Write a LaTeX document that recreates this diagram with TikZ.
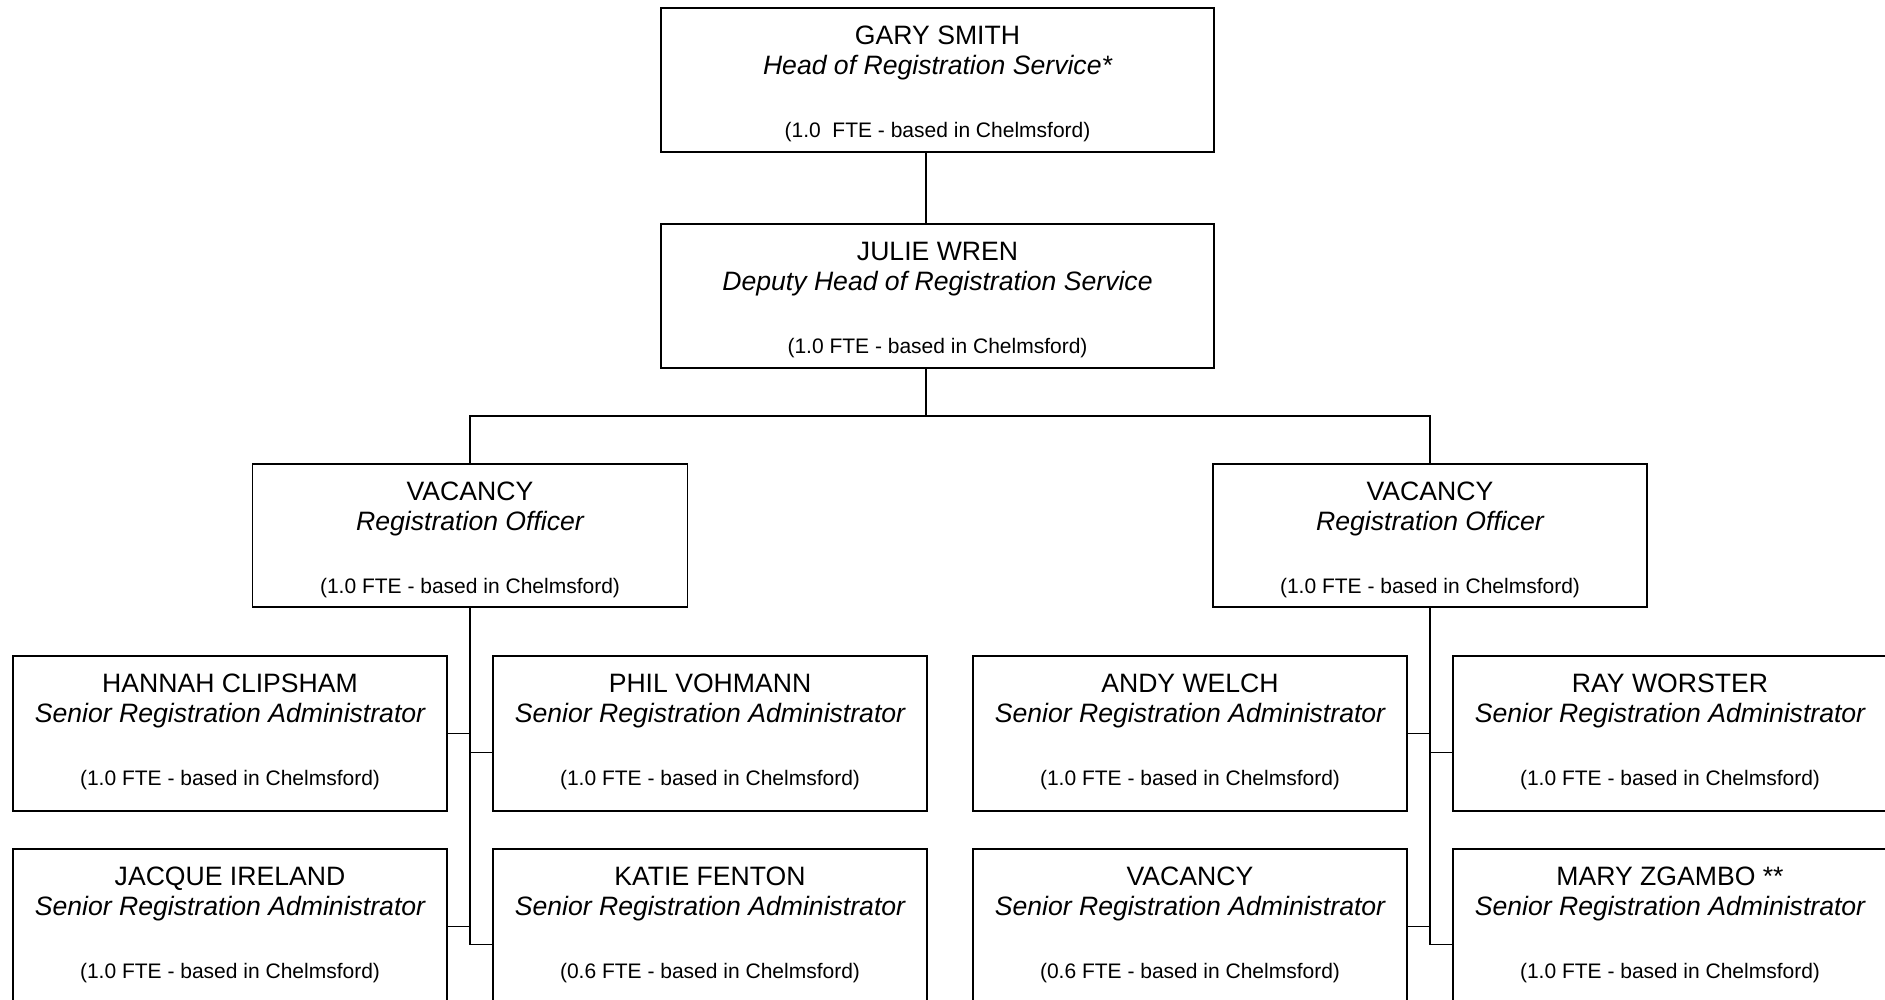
\documentclass[tikz,border=0pt]{standalone}
\usepackage{fontspec}
\setmainfont{Liberation Sans}
\newcommand{\orgbox}[8]{%
  \node[obox, minimum width=#4pt, minimum height=#5pt, anchor=north] (#1) at (#2,#3) {};
  \node[nametext] (#1-n) at (#2,#3+36.5) {#6};
  \node[titletext] (#1-t) at (#2,#3+66.5) {#7};
  \node[ftetext] (#1-f) at (#2,#3+129.5) {#8};
}
\begin{document}
\begin{tikzpicture}[x=1pt,y=-1pt,
  obox/.style={draw=black, line width=1.8pt, inner sep=0pt, outer sep=0pt, rectangle},
  nametext/.style={font=\fontsize{26.6}{30}\selectfont, anchor=base, inner sep=0pt},
  titletext/.style={font=\fontsize{26.6}{30}\selectfont\itshape, anchor=base, inner sep=0pt},
  ftetext/.style={font=\fontsize{21}{25}\selectfont, anchor=base, inner sep=0pt},
  conn/.style={draw=black, line width=1.8pt}]
\useasboundingbox (0,0) rectangle (1885,1000);
\clip (0,0) rectangle (1885,1000);
\fill[white] (0,0) rectangle (1885,1000);

\orgbox{gary}{937.5}{8}{553}{144}{GARY SMITH}{Head of Registration Service*}{(1.0~ FTE - based in Chelmsford)}
\orgbox{julie}{937.5}{224}{553}{144}{JULIE WREN}{Deputy Head of Registration Service}{(1.0 FTE - based in Chelmsford)}
\orgbox{vacL}{470}{464}{435}{143}{VACANCY}{Registration Officer}{(1.0 FTE - based in Chelmsford)}
\orgbox{vacR}{1430}{464}{434}{143}{VACANCY}{Registration Officer}{(1.0 FTE - based in Chelmsford)}

\orgbox{hannah}{230}{656}{434}{155}{HANNAH CLIPSHAM}{Senior Registration Administrator}{(1.0 FTE - based in Chelmsford)}
\orgbox{phil}{710}{656}{434}{155}{PHIL VOHMANN}{Senior Registration Administrator}{(1.0 FTE - based in Chelmsford)}
\orgbox{jacque}{230}{849}{434}{155}{JACQUE IRELAND}{Senior Registration Administrator}{(1.0 FTE - based in Chelmsford)}
\orgbox{katie}{710}{849}{434}{155}{KATIE FENTON}{Senior Registration Administrator}{(0.6 FTE - based in Chelmsford)}

\orgbox{andy}{1190}{656}{434}{155}{ANDY WELCH}{Senior Registration Administrator}{(1.0 FTE - based in Chelmsford)}
\orgbox{ray}{1670}{656}{434}{155}{RAY WORSTER}{Senior Registration Administrator}{(1.0 FTE - based in Chelmsford)}
\orgbox{vacS}{1190}{849}{434}{155}{VACANCY}{Senior Registration Administrator}{(0.6 FTE - based in Chelmsford)}
\orgbox{mary}{1670}{849}{434}{155}{MARY ZGAMBO **}{Senior Registration Administrator}{(1.0 FTE - based in Chelmsford)}

% top connectors
\draw[conn] ([xshift=-11.5pt]gary.south) -- ([xshift=-11.5pt]julie.north);
\coordinate (bus) at (926,416);
\draw[conn] ([xshift=-11.5pt]julie.south) -- (bus);
\draw[conn] (vacL.north) |- (bus) -| (vacR.north);

% left group
\draw[conn] (vacL.south) |- ([yshift=-18pt]katie.west);
\draw[conn] (hannah.east) -- (hannah.east -| vacL.south);
\draw[conn] (jacque.east) -- (jacque.east -| vacL.south);
\draw[conn] ([yshift=-19pt]phil.west) -- ([yshift=-19pt]phil.west -| vacL.south);

% right group
\draw[conn] (vacR.south) |- ([yshift=-18pt]mary.west);
\draw[conn] (andy.east) -- (andy.east -| vacR.south);
\draw[conn] (vacS.east) -- (vacS.east -| vacR.south);
\draw[conn] ([yshift=-19pt]ray.west) -- ([yshift=-19pt]ray.west -| vacR.south);
\end{tikzpicture}
\end{document}
